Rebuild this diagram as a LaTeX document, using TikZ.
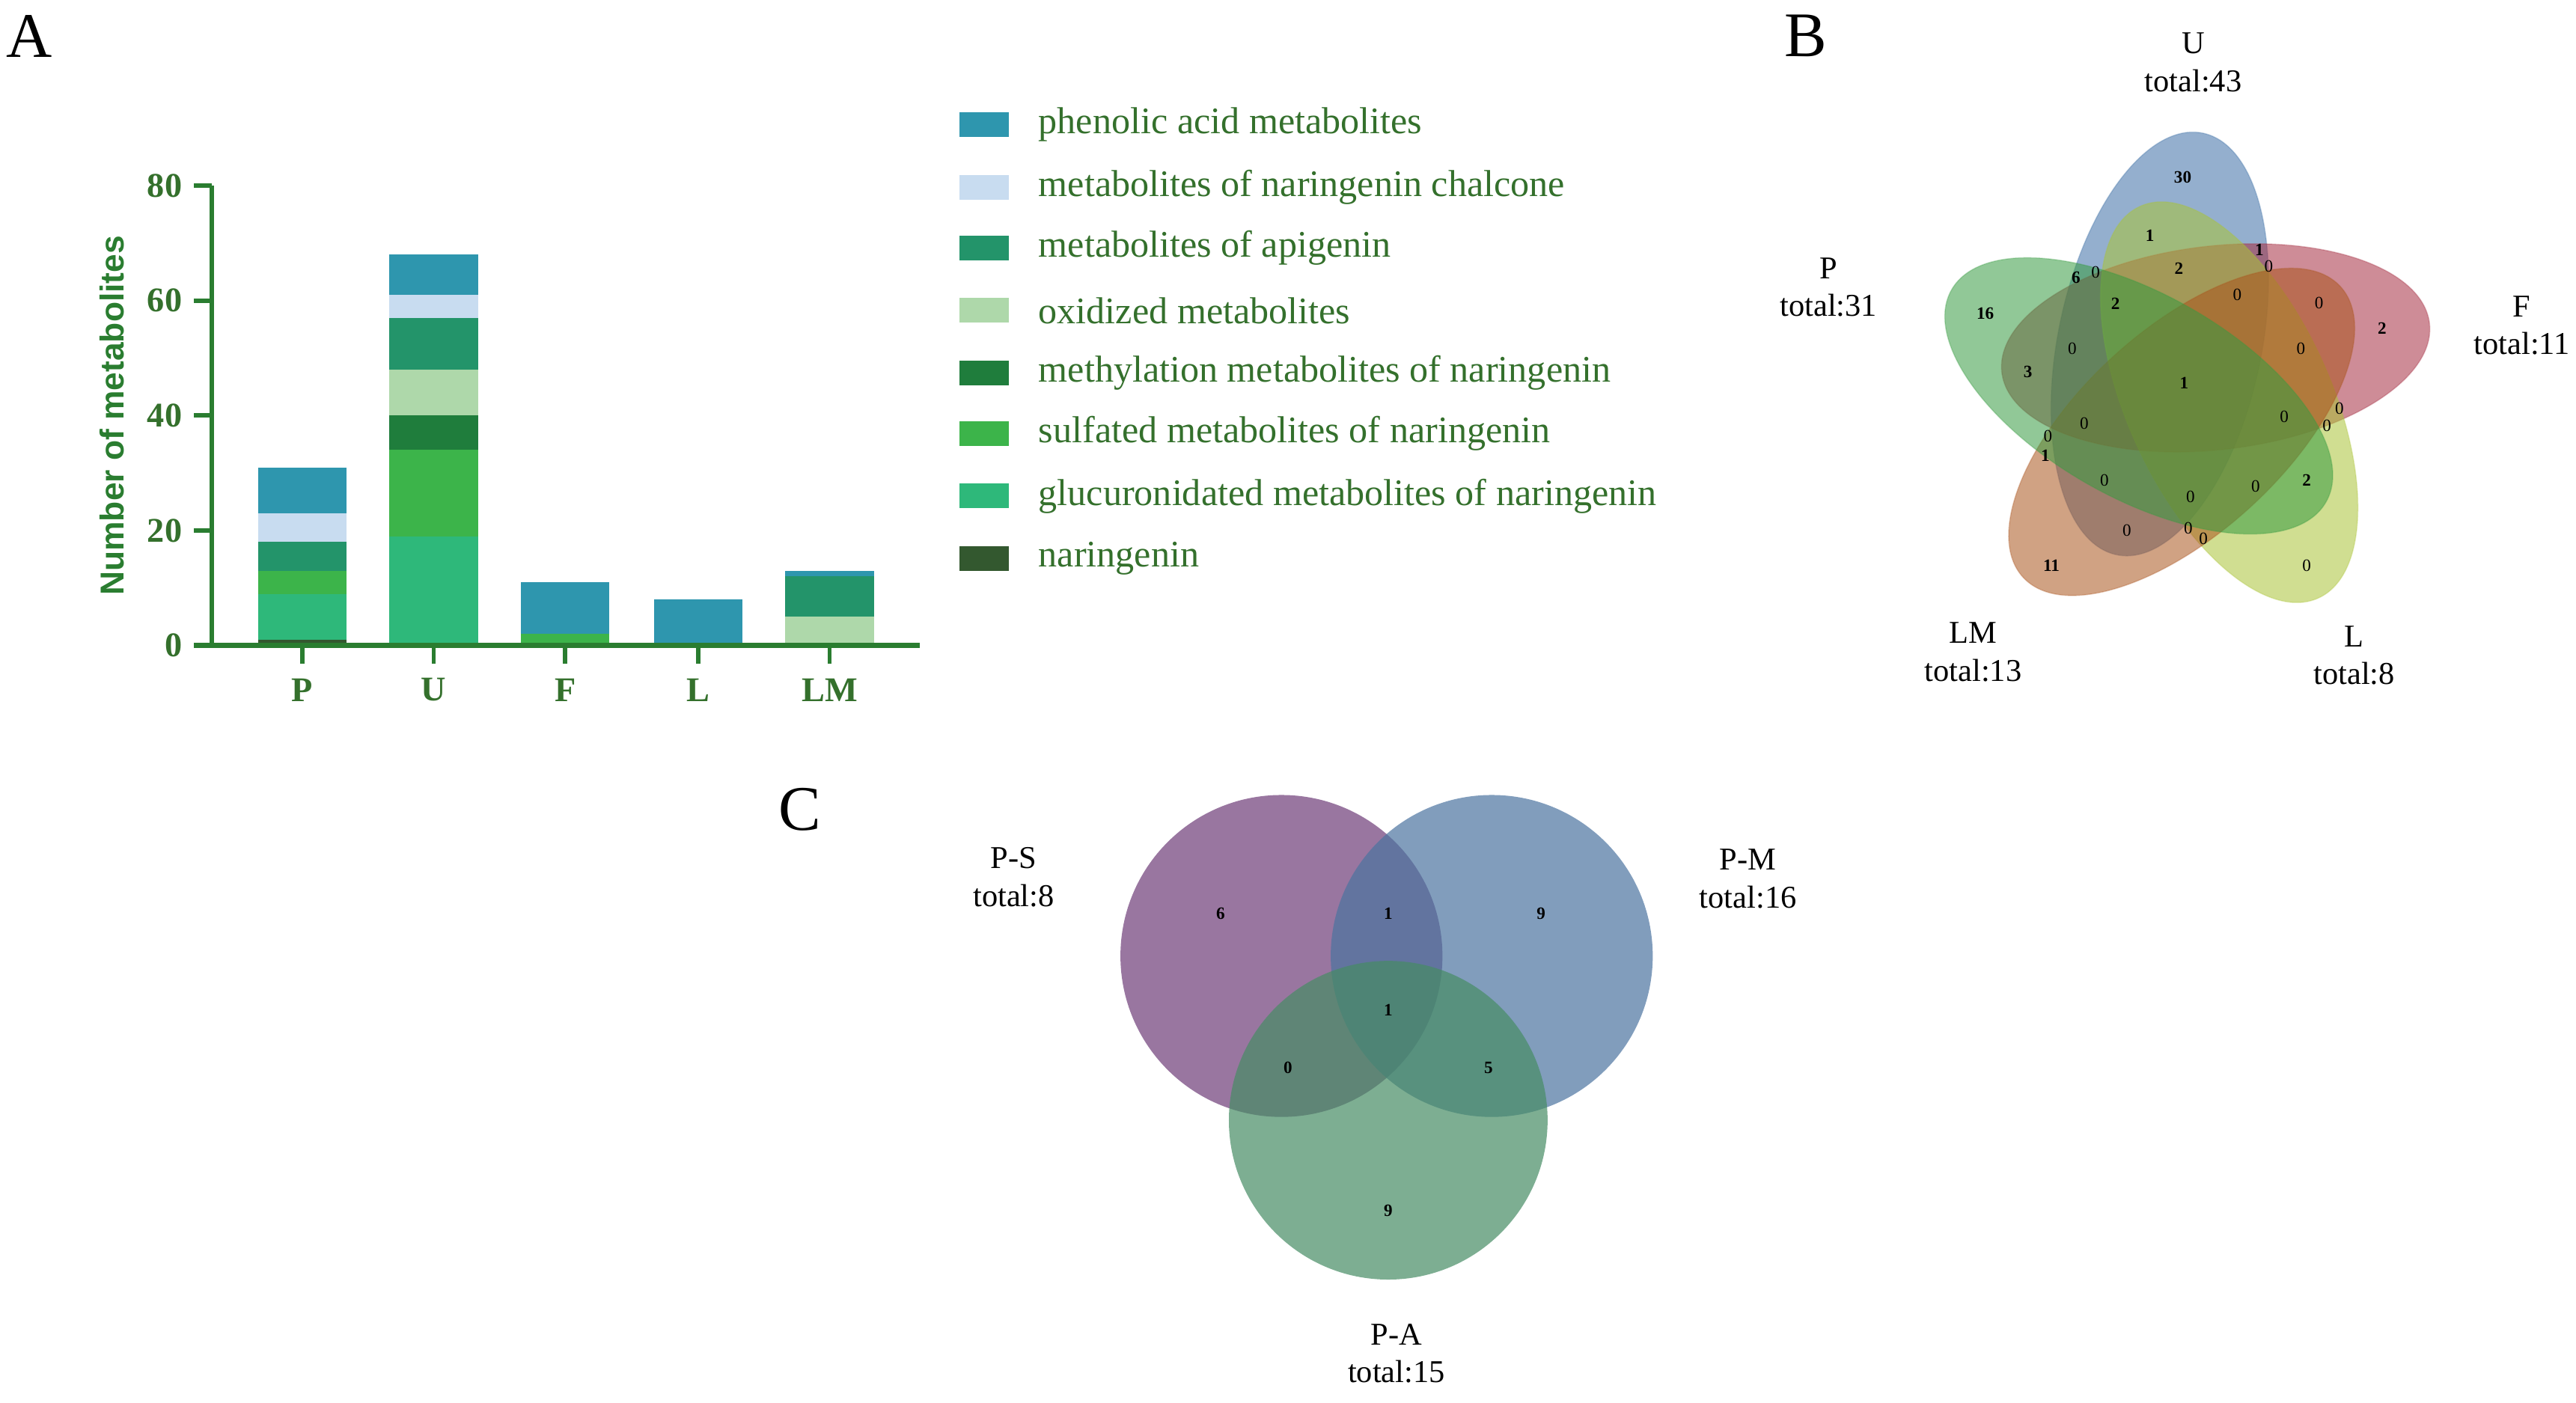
\documentclass[tikz,border=0pt]{standalone}
\usepackage{fontspec}
\setmainfont{Liberation Serif}
\newfontfamily\sansf{Liberation Sans}
\begin{document}
\definecolor{axg}{RGB}{42,125,48}
\definecolor{txg}{RGB}{52,112,44}
\definecolor{cph}{RGB}{46,150,174}
\definecolor{cch}{RGB}{200,220,240}
\definecolor{cag}{RGB}{35,148,106}
\definecolor{cox}{RGB}{174,216,170}
\definecolor{cme}{RGB}{31,125,60}
\definecolor{csu}{RGB}{60,180,74}
\definecolor{cgl}{RGB}{46,184,122}
\definecolor{cna}{RGB}{51,88,47}
\definecolor{vU}{RGB}{60,110,165}
\definecolor{vF}{RGB}{165,45,65}
\definecolor{vL}{RGB}{170,195,55}
\definecolor{vLM}{RGB}{170,85,30}
\definecolor{vP}{RGB}{55,155,65}
\definecolor{cS}{RGB}{110,60,120}
\definecolor{cM}{RGB}{75,115,160}
\definecolor{cA}{RGB}{70,140,100}
\begin{tikzpicture}[x=0.02cm,y=-0.02cm,
  panel/.style={font=\fontsize{22}{24}\selectfont},
  tick/.style={font=\bfseries\fontsize{12}{13}\selectfont,text=txg},
  leg/.style={font=\fontsize{13}{14}\selectfont,text=txg,anchor=west},
  vlab/.style={font=\fontsize{11}{13}\selectfont,align=center},
  vn/.style={font=\bfseries\fontsize{6}{7}\selectfont},
  vz/.style={font=\fontsize{6}{7}\selectfont},
  ell/.style={fill opacity=0.55,draw opacity=0.3,line width=0.4pt}]
\useasboundingbox (0,0) rectangle (1568,854);
% ---------- Panel A ----------
\node[panel] (A) at (18,22) {A};
\newcommand{\seg}[4]{\fill[#4] (#1-27,{393-3.5*#2}) rectangle (#1+27,{393-3.5*#3});}
% P
\seg{184}{0}{1}{cna}\seg{184}{1}{9}{cgl}\seg{184}{9}{13}{csu}\seg{184}{13}{18}{cag}\seg{184}{18}{23}{cch}\seg{184}{23}{31}{cph}
% U
\seg{264}{0}{19}{cgl}\seg{264}{19}{34}{csu}\seg{264}{34}{40}{cme}\seg{264}{40}{48}{cox}\seg{264}{48}{57}{cag}\seg{264}{57}{61}{cch}\seg{264}{61}{68}{cph}
% F
\seg{344}{0}{2}{csu}\seg{344}{2}{11}{cph}
% L
\seg{425}{0}{8}{cph}
% LM
\seg{505}{0}{5}{cox}\seg{505}{5}{12}{cag}\seg{505}{12}{13}{cph}
\draw[axg,line width=1.7pt] (129,113) -- (129,393);
\draw[axg,line width=1.7pt] (118,393) -- (560,393);
\foreach \v/\n in {0/t0,20/t20,40/t40,60/t60,80/t80}{
  \draw[axg,line width=1.5pt] (118,{393-3.5*\v}) -- (129,{393-3.5*\v});
  \node[tick,anchor=east] (\n) at (117,{393-3.5*\v}) {\v};}
\foreach \x/\l/\n in {184/P/xP,264/U/xU,344/F/xF,425/L/xL,505/LM/xLM}{
  \draw[axg,line width=1.5pt] (\x,393) -- (\x,404);
  \node[tick] (\n) at (\x,420) {\l};}
\node[rotate=90,font=\sansf\bfseries\fontsize{11.5}{13}\selectfont,text=axg] (ylab) at (68,253) {Number of metabolites};
% legend
\foreach \y/\c/\t [count=\i] in {76/cph/phenolic acid metabolites,114/cch/metabolites of naringenin chalcone,151/cag/metabolites of apigenin,189/cox/oxidized metabolites,227/cme/methylation metabolites of naringenin,264/csu/sulfated metabolites of naringenin,302/cgl/glucuronidated metabolites of naringenin,340/cna/naringenin}{
  \fill[\c] (584,\y-7.5) rectangle (614,\y+7.5);
  \node[leg] (leg\i) at (626,\y) {\t};}
% ---------- Panel B ----------
\node[panel] (B) at (1099,22) {B};
\foreach \th/\c in {90/vU,18/vF,-54/vL,-126/vLM,162/vP}{
  \fill[\c,ell,draw=\c] ({1330+29*cos(\th+32)},{234-29*sin(\th+32)}) ellipse[x radius=131,y radius=62,rotate=(\th-11.5)];}
\foreach \x/\y/\t in {1328.6/107.8/30,1308.6/143.6/1,1375.2/152/1,1326.3/163.6/2,1263.6/169/6,1287.7/184.8/2,1208.4/191/16,1450/200/2,1234.4/226.3/3,1329.5/233.2/1,1244.9/277.2/1,1404/292.3/2,1248.7/344.3/11}{
  \node[vn] at (\x,\y) {\t};}
\foreach \x/\y in {1380.9/162,1275.6/165.8,1361.8/179.6,1411.6/184.3,1261.4/212.3,1400.5/212.3,1424/248.9,1268.6/257.7,1390.4/253.6,1416.4/259.3,1246.5/265.4,1281/292.3,1373/296,1333.3/302.5,1294.6/323,1332/321.8,1341.2/328,1404/344.3}{
  \node[vz] at (\x,\y) {0};}
\node[vlab] (lU) at (1335,38) {U\\total:43};
\node[vlab] (lP) at (1113,175) {P\\total:31};
\node[vlab] (lF) at (1535,198) {F\\total:11};
\node[vlab] (lLM) at (1201,397) {LM\\total:13};
\node[vlab] (lL) at (1433,399) {L\\total:8};
% ---------- Panel C ----------
\node[panel] (C) at (487,493) {C};
\fill[cS,fill opacity=0.7] (780,582) circle (98);
\fill[cM,fill opacity=0.7] (908,582) circle (98);
\fill[cA,fill opacity=0.7] (845,682) circle (97);
\foreach \x/\y/\t in {743/556/6,845/556/1,938/556/9,845/615/1,784/650/0,906/650/5,845/737/9}{
  \node[vn] at (\x,\y) {\t};}
\node[vlab] (lS) at (617,534) {P-S\\total:8};
\node[vlab] (lM) at (1064,535) {P-M\\total:16};
\node[vlab] (lA) at (850,824) {P-A\\total:15};
\end{tikzpicture}
\end{document}
